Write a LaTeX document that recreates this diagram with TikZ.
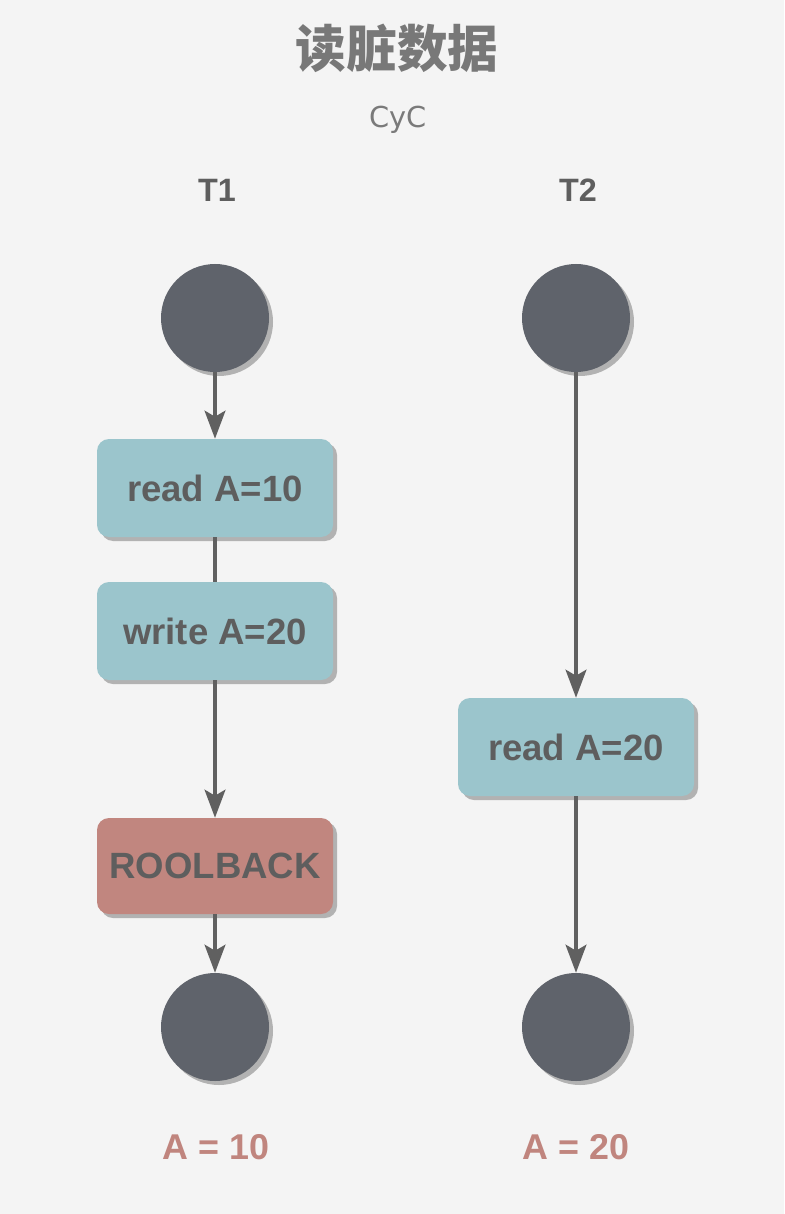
\documentclass[tikz,border=0pt]{standalone}
\usepackage{fontspec}
\setmainfont{Liberation Sans}
\newfontfamily\cjk{Noto Sans CJK SC}
\newfontfamily\wide{DejaVu Sans}
\usetikzlibrary{arrows.meta,shadows}
\definecolor{bg}{HTML}{F4F4F4}
\definecolor{boxblue}{HTML}{9BC5CC}
\definecolor{boxred}{HTML}{C1867F}
\definecolor{dot}{HTML}{5F636B}
\definecolor{ink}{HTML}{5E5E5E}
\definecolor{line}{HTML}{606060}
\definecolor{result}{HTML}{C0857E}
\begin{document}
\begin{tikzpicture}[
  shade/.style={drop shadow={shadow xshift=0.1cm, shadow yshift=-0.1cm, fill=black!30, opacity=1}},
  state/.style={circle, fill=dot, minimum size=2.7cm, inner sep=0pt, shade},
  task/.style={rounded corners=0.3cm, fill=boxblue, minimum width=5.9cm, minimum height=2.45cm,
    text=ink, font=\fontsize{26}{31}\selectfont\bfseries, shade},
  link/.style={line width=2.6pt, draw=line},
  flow/.style={link, -{Stealth[length=0.7cm, width=0.52cm, inset=0.15cm]}},
  label/.style={text=ink, font=\fontsize{23}{28}\selectfont\bfseries},
  value/.style={text=result, font=\fontsize{25.5}{30}\selectfont\bfseries}
]
\fill [bg] (0,0) rectangle (19.6,-30.35);
\useasboundingbox (0,0) rectangle (19.6,-30.35);

\node (title) at (9.925,-1.2) {\cjk\fontsize{36}{42}\selectfont\bfseries\color{black!53}读脏数据};
\node (author) [text=black!52, font=\wide\fontsize{20.5}{24}\selectfont] at (9.95,-3.0) {CyC};

% T1
\node (t1) [label] at (5.425,-4.75) {T1};
\node (s1) [state] at (5.375,-7.95) {};
\node (read1) [task] at (5.375,-12.2) {read A=10};
\node (write1) [task] at (5.375,-15.775) {write A=20};
\node (roll1) [task, fill=boxred, minimum height=2.4cm] at (5.375,-21.65) {ROOLBACK};
\node (e1) [state] at (5.375,-25.675) {};
\node (v1) [value] at (5.4,-28.675) {A = 10};

% T2
\node (t2) [label] at (14.45,-4.75) {T2};
\node (s2) [state] at (14.4,-7.95) {};
\node (read2) [task] at (14.4,-18.675) {read A=20};
\node (e2) [state] at (14.4,-25.675) {};
\node (v2) [value] at (14.4,-28.675) {A = 20};

\draw [flow] (s1) -- (read1);
\draw [link] (read1) -- (write1);
\draw [flow] (write1) -- (roll1);
\draw [flow] (roll1) -- (e1);
\draw [flow] (s2) -- (read2);
\draw [flow] (read2) -- (e2);
\end{tikzpicture}
\end{document}
